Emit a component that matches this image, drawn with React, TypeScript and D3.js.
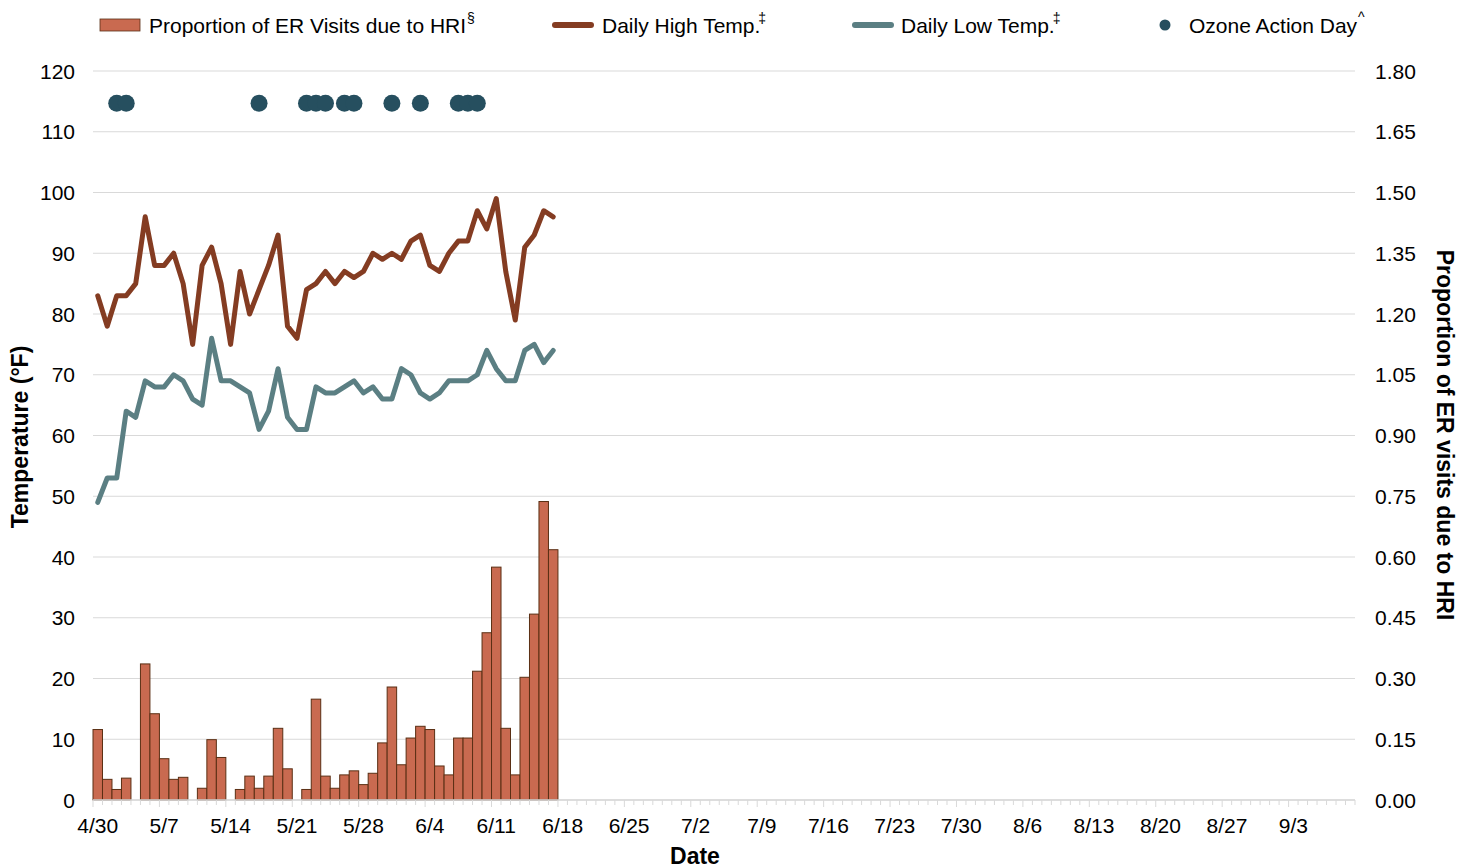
import React from 'react';
import * as d3 from 'd3';

// Days on the x axis (4/30 through 9/9), one band per day
const fmt = d3.timeFormat('%-m/%-d');
const days = d3.timeDay.range(new Date(2018, 3, 30), new Date(2018, 8, 10)).map(fmt);

// Week labels shown under the axis
const weekLabels = ['4/30', '5/7', '5/14', '5/21', '5/28', '6/4', '6/11', '6/18', '6/25', '7/2', '7/9', '7/16', '7/23', '7/30', '8/6', '8/13', '8/20', '8/27', '9/3'];

// Observed days (4/30 - 6/17)
const obsDays = days.slice(0, 49);

// Proportion of ER visits due to HRI (right axis)
const hriProportion = [
  0.174, 0.051, 0.026, 0.054, 0, 0.336, 0.213, 0.102, 0.051, 0.056,
  0, 0.029, 0.149, 0.105, 0, 0.026, 0.059, 0.029, 0.059, 0.177,
  0.077, 0, 0.026, 0.249, 0.059, 0.029, 0.062, 0.072, 0.038, 0.066,
  0.141, 0.279, 0.087, 0.153, 0.182, 0.174, 0.084, 0.062, 0.153, 0.153,
  0.318, 0.413, 0.575, 0.177, 0.062, 0.303, 0.459, 0.737, 0.618,
];

// Daily high temp (°F)
const highTemp = [
  83, 78, 83, 83, 85, 96, 88, 88, 90, 85,
  75, 88, 91, 85, 75, 87, 80, 84, 88, 93,
  78, 76, 84, 85, 87, 85, 87, 86, 87, 90,
  89, 90, 89, 92, 93, 88, 87, 90, 92, 92,
  97, 94, 99, 87, 79, 91, 93, 97, 96,
];

// Daily low temp (°F)
const lowTemp = [
  49, 53, 53, 64, 63, 69, 68, 68, 70, 69,
  66, 65, 76, 69, 69, 68, 67, 61, 64, 71,
  63, 61, 61, 68, 67, 67, 68, 69, 67, 68,
  66, 66, 71, 70, 67, 66, 67, 69, 69, 69,
  70, 74, 71, 69, 69, 74, 75, 72, 74,
];

// Ozone action days, drawn at a fixed height on the temp axis
const ozoneDays = ['5/2', '5/3', '5/17', '5/22', '5/23', '5/24', '5/26', '5/27', '5/31', '6/3', '6/7', '6/8', '6/9'];
const ozoneLevel = 114.7;

const tempTicks = [0, 10, 20, 30, 40, 50, 60, 70, 80, 90, 100, 110, 120];
const propTicks = [0, 0.15, 0.3, 0.45, 0.6, 0.75, 0.9, 1.05, 1.2, 1.35, 1.5, 1.65, 1.8];

const COLORS = {
  bar: '#c96a50',
  barStroke: '#5a2f14',
  high: '#843c22',
  low: '#5b7f83',
  ozone: '#264f5f',
  grid: '#d9d9d9',
};

const FONT = '"Liberation Sans", Arial, sans-serif';

export default function App() {
  const width = 1472;
  const height = 866;
  const left = 93;
  const right = 1355;
  const top = 71;
  const bottom = 800;

  const x = d3.scaleBand().domain(days).range([left, right]).padding(0);
  const yTemp = d3.scaleLinear().domain([0, 120]).range([bottom, top]);
  const yProp = d3.scaleLinear().domain([0, 1.8]).range([bottom, top]);
  const cx = (d) => x(d) + x.bandwidth() / 2;

  const tempLine = d3.line().x((d, i) => cx(obsDays[i])).y((d) => yTemp(d));

  const boundaries = days.map((d) => x(d)).concat([right]);
  const weekStarts = new Set(weekLabels.map((d) => x(d)));

  return (
    <svg width={width} height={height} style={{ position: 'absolute', left: 0, top: 0, fontFamily: FONT }}>
      <rect width={width} height={height} fill="#fff" />

      {/* grid */}
      {tempTicks.map((t) => (
        <line key={'g' + t} x1={left} x2={right} y1={yTemp(t)} y2={yTemp(t)} stroke={COLORS.grid} strokeWidth={1.2} />
      ))}

      {/* bars */}
      {hriProportion.map((v, i) =>
        v > 0 ? (
          <rect
            key={'b' + i}
            x={x(obsDays[i])}
            y={yProp(v)}
            width={x.bandwidth()}
            height={bottom - yProp(v)}
            fill={COLORS.bar}
            stroke={COLORS.barStroke}
            strokeWidth={1}
          />
        ) : null
      )}

      {/* x axis ticks */}
      {boundaries.map((b, i) => (
        <line key={'t' + i} x1={b} x2={b} y1={bottom} y2={bottom + (weekStarts.has(b) ? 7 : 5)} stroke={COLORS.grid} strokeWidth={1} />
      ))}
      <line x1={left} x2={right} y1={bottom} y2={bottom} stroke={COLORS.grid} strokeWidth={1.5} />

      {/* lines */}
      <path d={tempLine(highTemp)} fill="none" stroke={COLORS.high} strokeWidth={5} strokeLinejoin="round" strokeLinecap="round" />
      <path d={tempLine(lowTemp)} fill="none" stroke={COLORS.low} strokeWidth={5} strokeLinejoin="round" strokeLinecap="round" />

      {/* ozone days */}
      {ozoneDays.map((d) => (
        <circle key={'o' + d} cx={cx(d)} cy={yTemp(ozoneLevel)} r={8.5} fill={COLORS.ozone} />
      ))}

      {/* left axis labels */}
      {tempTicks.map((t) => (
        <text key={'l' + t} x={75} y={yTemp(t) + 7.5} textAnchor="end" fontSize={21} fill="#000">
          {t}
        </text>
      ))}
      {/* right axis labels */}
      {propTicks.map((t) => (
        <text key={'r' + t} x={1375} y={yProp(t) + 7.5} textAnchor="start" fontSize={21} fill="#000">
          {t.toFixed(2)}
        </text>
      ))}
      {/* x labels */}
      {weekLabels.map((d) => (
        <text key={'x' + d} x={cx(d)} y={833} textAnchor="middle" fontSize={21} fill="#000">
          {d}
        </text>
      ))}

      {/* axis titles */}
      <text transform={`translate(28,437) rotate(-90)`} textAnchor="middle" fontSize={23} fontWeight="bold">
        Temperature (°F)
      </text>
      <text transform={`translate(1437,435) rotate(90)`} textAnchor="middle" fontSize={23} fontWeight="bold">
        Proportion of ER visits due to HRI
      </text>
      <text x={695} y={864} textAnchor="middle" fontSize={23} fontWeight="bold">
        Date
      </text>

      {/* legend */}
      <g fontSize={21}>
        <rect x={100} y={19} width={40} height={12} fill={COLORS.bar} stroke={COLORS.barStroke} strokeWidth={0.8} />
        <text x={149} y={33}>
          Proportion of ER Visits due to HRI<tspan dx={1} dy={-10} fontSize={14}>§</tspan>
        </text>

        <line x1={555} x2={591} y1={25} y2={25} stroke={COLORS.high} strokeWidth={6} strokeLinecap="round" />
        <text x={602} y={33}>
          Daily High Temp.<tspan dx={-2} dy={-10} fontSize={14}>‡</tspan>
        </text>

        <line x1={855} x2={891} y1={25} y2={25} stroke={COLORS.low} strokeWidth={6} strokeLinecap="round" />
        <text x={901} y={33}>
          Daily Low Temp.<tspan dx={-2} dy={-10} fontSize={14}>‡</tspan>
        </text>

        <circle cx={1165} cy={25} r={5.5} fill={COLORS.ozone} />
        <text x={1189} y={33}>
          Ozone Action Day<tspan dx={1} dy={-11} fontSize={14}>^</tspan>
        </text>
      </g>
    </svg>
  );
}
